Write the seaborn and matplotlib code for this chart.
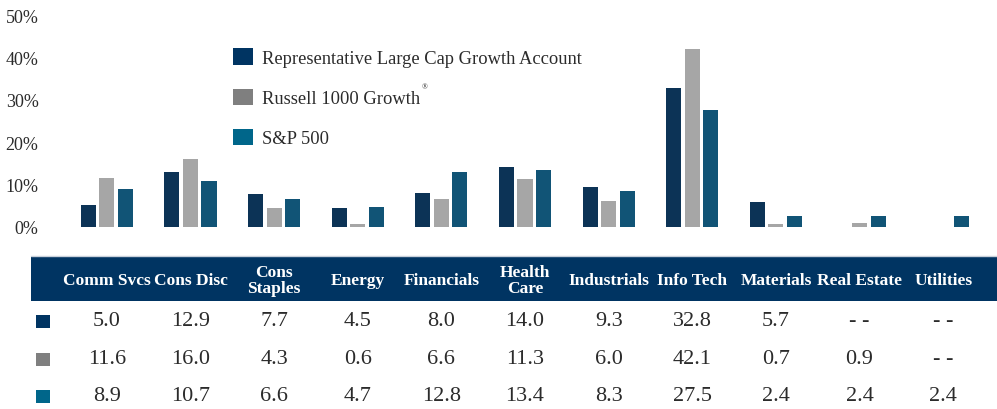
import matplotlib
matplotlib.use("Agg")
import matplotlib.pyplot as plt
import matplotlib.transforms as mtransforms
from matplotlib.patches import Patch, Rectangle
import numpy as np
import pandas as pd
import seaborn as sns

sectors = ["Comm Svcs", "Cons Disc", "Cons\nStaples", "Energy", "Financials",
           "Health\nCare", "Industrials", "Info Tech", "Materials", "Real Estate",
           "Utilities"]
series_names = ["Representative Large Cap Growth Account", "Russell 1000 Growth", "S&P 500"]
account = [5.0, 12.9, 7.7, 4.5, 8.0, 14.0, 9.3, 32.8, 5.7, None, None]
russell = [11.6, 16.0, 4.3, 0.6, 6.6, 11.3, 6.0, 42.1, 0.7, 0.9, None]
sp500 = [8.9, 10.7, 6.6, 4.7, 12.8, 13.4, 8.3, 27.5, 2.4, 2.4, 2.4]
yticks = [0, 10, 20, 30, 40, 50]

bar_colors = ["#003462", "#a6a6a6", "#005987"]
key_colors = ["#003462", "#7f7f7f", "#00668a"]
navy = "#003462"
txt = "#2b2b2b"

rows = []
for name, vals in zip(series_names, [account, russell, sp500]):
    for s, v in zip(sectors, vals):
        rows.append({"sector": s, "series": name, "value": np.nan if v is None else v})
df = pd.DataFrame(rows)

sns.set_style("white")
plt.rcParams["font.family"] = ["Liberation Serif", "DejaVu Serif"]

fig = plt.figure(figsize=(9.97, 4.10), dpi=100)
W, H = 997, 410
ax = fig.add_axes([65 / W, (H - 227.5) / H, 920 / W, 211 / H])

sns.barplot(data=df, x="sector", y="value", hue="series", hue_order=series_names,
            order=sectors, palette=bar_colors, width=0.665, gap=0.19,
            edgecolor="none", linewidth=0, legend=False, ax=ax)

ax.set_xlim(-0.5, len(sectors) - 0.5)
ax.set_ylim(0, 50)
ax.set_yticks(yticks)
ax.set_yticklabels([f"{t}%" for t in yticks], fontsize=13, color=txt)
ax.tick_params(axis="y", length=0, pad=19)
ax.set_xticks([])
ax.set_xlabel("")
ax.set_ylabel("")
sns.despine(ax=ax, left=True, bottom=True)

handles = [Patch(facecolor=c, edgecolor="none") for c in key_colors]
leg = fig.legend(handles, series_names, loc="upper left",
                 bbox_to_anchor=(226 / W, (H - 42) / H), frameon=False,
                 fontsize=13.3, handlelength=1.05, handleheight=1.0,
                 handletextpad=0.5, labelspacing=1.17, borderaxespad=0)
for t in leg.get_texts():
    t.set_color(txt)
fig.text(422 / W, (H - 87) / H, "®", fontsize=5.5, color=txt, ha="left", va="center")

# table below the chart
trans = mtransforms.blended_transform_factory(ax.transData, fig.transFigure)
fig.patches.append(Rectangle((31 / W, (H - 302) / H), (W - 31) / W, 44 / H,
                             transform=fig.transFigure, facecolor=navy,
                             edgecolor="none", zorder=0))
fig.add_artist(plt.Line2D([31 / W, 1], [(H - 257) / H] * 2, color="#c9d1db",
                          linewidth=1, transform=fig.transFigure))
for i, s in enumerate(sectors):
    fig.text(i, (H - 281) / H, s, transform=trans, ha="center", va="center",
             fontsize=12.5, fontweight="bold", color="white", linespacing=0.92)

row_y = [322, 360, 397]
for vals, c, y in zip([account, russell, sp500], key_colors, row_y):
    fig.patches.append(Rectangle((36 / W, (H - y - 6.5) / H), 14 / W, 13 / H,
                                 transform=fig.transFigure, facecolor=c,
                                 edgecolor="none"))
    for i, v in enumerate(vals):
        label = "- -" if v is None else f"{v:.1f}"
        fig.text(i, (H - y) / H, label, transform=trans, ha="center",
                 va="center", fontsize=16, color=txt)

fig.savefig("out.png", dpi=100)
